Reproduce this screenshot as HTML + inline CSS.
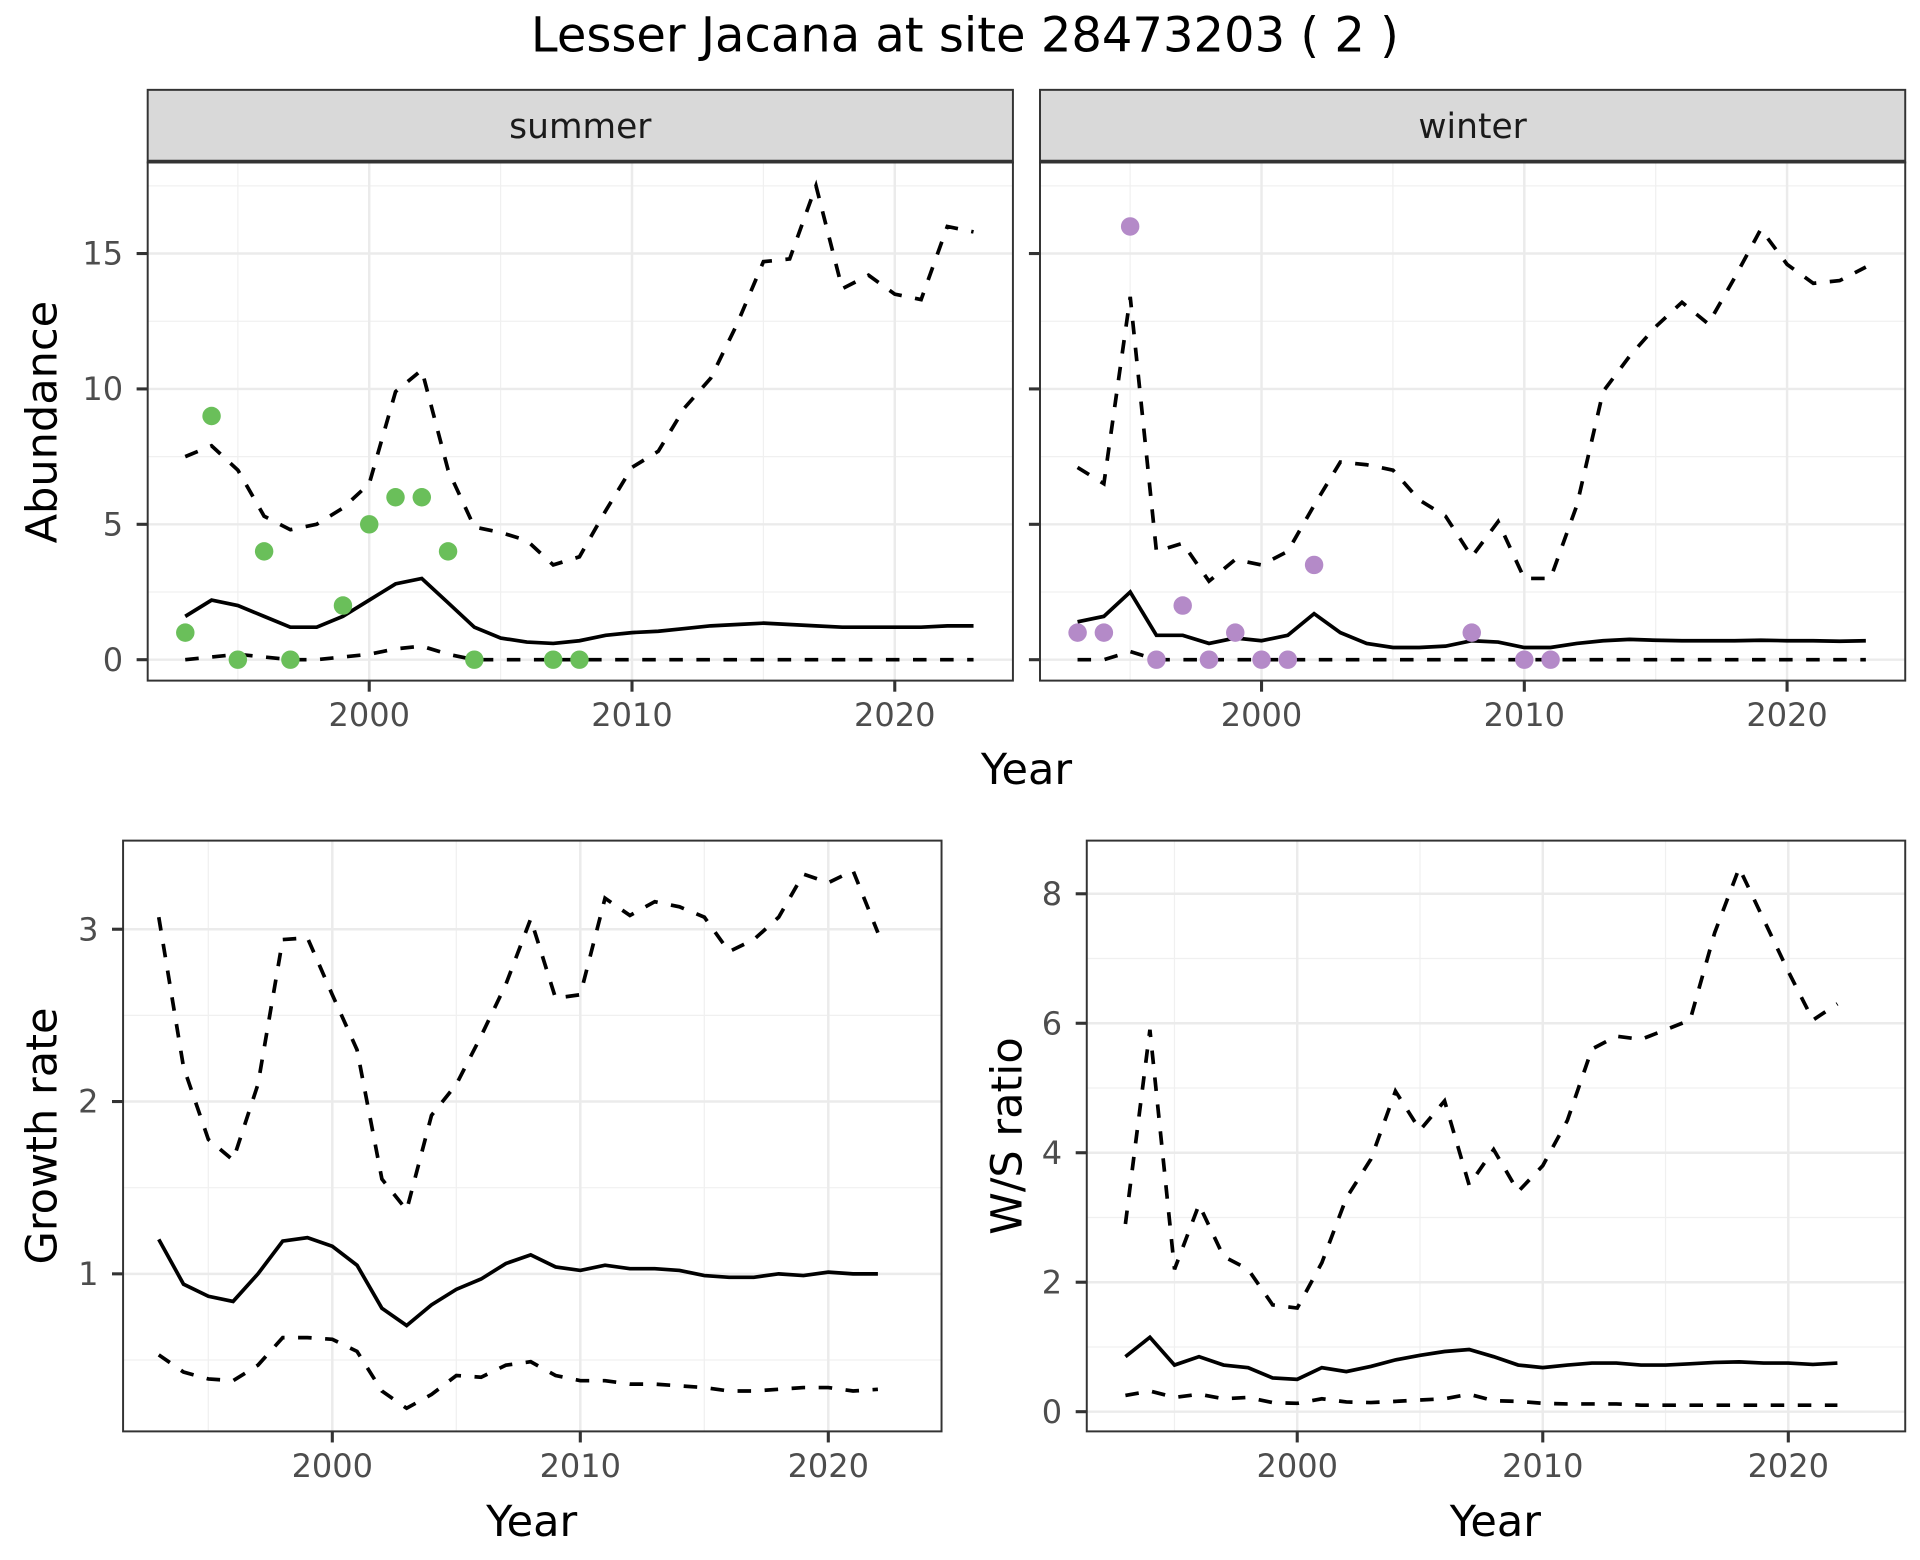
<!DOCTYPE html>
<html><head><meta charset="utf-8"><style>
html,body{margin:0;padding:0;background:#fff}
svg{display:block}
text{font-family:"DejaVu Sans","Liberation Sans",sans-serif}
</style></head><body>
<svg id="s" xmlns="http://www.w3.org/2000/svg" width="1920" height="1560" viewBox="0 0 1560 1267.5"></svg>
<script>
(function(){
const S=document.getElementById('s');let h='';
h+='<rect width="1560" height="1268" fill="#fff"/>';
h+='<text x="784" y="42" font-size="39" text-anchor="middle" fill="#000">Lesser Jacana at site 28473203 ( 2 )</text>';
function panel(o){
 const x0=o.x0,x1=o.x1,y0=o.y0,y1=o.y1,xs=o.xs,ys=o.ys;
 let g='';
 g+=`<rect x="${x0}" y="${y0}" width="${x1-x0}" height="${y1-y0}" fill="#fff"/>`;
 o.xminor.forEach(v=>g+=`<line x1="${xs(v)}" x2="${xs(v)}" y1="${y0}" y2="${y1}" stroke="#f0f0f0" stroke-width="1"/>`);
 o.yminor.forEach(v=>g+=`<line y1="${ys(v)}" y2="${ys(v)}" x1="${x0}" x2="${x1}" stroke="#f0f0f0" stroke-width="1"/>`);
 o.xticks.forEach(v=>g+=`<line x1="${xs(v)}" x2="${xs(v)}" y1="${y0}" y2="${y1}" stroke="#ebebeb" stroke-width="2"/>`);
 o.yticks.forEach(v=>g+=`<line y1="${ys(v)}" y2="${ys(v)}" x1="${x0}" x2="${x1}" stroke="#ebebeb" stroke-width="2"/>`);
 o.xticks.forEach(v=>{g+=`<line x1="${xs(v)}" x2="${xs(v)}" y1="${y1}" y2="${y1+9}" stroke="#333" stroke-width="2.5"/>`;
  g+=`<text x="${xs(v)}" y="${y1+37}" font-size="26" fill="#4d4d4d" text-anchor="middle">${v}</text>`;});
 o.yticks.forEach(v=>{g+=`<line x1="${x0-9}" x2="${x0}" y1="${ys(v)}" y2="${ys(v)}" stroke="#333" stroke-width="2.5"/>`;
  if(o.showY)g+=`<text x="${x0-20}" y="${ys(v)+9}" font-size="26" fill="#4d4d4d" text-anchor="end">${v}</text>`;});
 const line=(a,st,dash)=>{let p=a.map((v,i)=>xs(st+i).toFixed(1)+','+ys(v).toFixed(1)).join(' ');
  return `<polyline points="${p}" fill="none" stroke="#000" stroke-width="3" ${dash?'stroke-dasharray="11,11"':''}/>`;};
 g+=line(o.up,o.st,1)+line(o.lo,o.st,1)+line(o.mid,o.st,0);
 (o.pts||[]).forEach(p=>g+=`<circle cx="${xs(p[0])}" cy="${ys(p[1])}" r="7.5" fill="${o.col}"/>`);
 g+=`<rect x="${x0}" y="${y0}" width="${x1-x0}" height="${y1-y0}" fill="none" stroke="#333" stroke-width="1.6"/>`;
 return g;
}
const z=n=>Array(n).fill(0);
const ysT=v=>536-22*v;
const topP=(x0,x1,x2000,sx)=>({x0:x0,x1:x1,y0:132,y1:553,xs:v=>x2000+(v-2000)*sx,ys:ysT,xticks:[2000,2010,2020],xminor:[1995,2005,2015],yticks:[0,5,10,15],yminor:[2.5,7.5,12.5,17.5],st:1993});
let A=topP(120,823,300,21.35);
Object.assign(A,{showY:1,col:'#6abf5a',
mid:[1.6,2.2,2.0,1.6,1.2,1.2,1.6,2.2,2.8,3.0,2.1,1.2,0.8,0.65,0.6,0.7,0.9,1.0,1.05,1.15,1.25,1.3,1.35,1.3,1.25,1.2,1.2,1.2,1.2,1.25,1.25],
up:[7.5,7.9,7.0,5.3,4.8,5.0,5.6,6.5,9.9,10.7,7.0,4.9,4.7,4.4,3.5,3.8,5.5,7.1,7.7,9.3,10.4,12.4,14.7,14.8,17.5,13.7,14.2,13.5,13.3,16.0,15.8],
lo:[0,0.1,0.2,0.1,0,0,0.1,0.2,0.4,0.5,0.2].concat(z(20)),
pts:[[1993,1],[1994,9],[1995,0],[1996,4],[1997,0],[1999,2],[2000,5],[2001,6],[2002,6],[2003,4],[2004,0],[2007,0],[2008,0]]});
h+=panel(A);
let B=topP(845,1548,1025,21.35);
Object.assign(B,{showY:0,col:'#b48ac8',
mid:[1.4,1.6,2.5,0.9,0.9,0.6,0.8,0.7,0.9,1.7,1.0,0.6,0.45,0.45,0.5,0.7,0.65,0.45,0.45,0.6,0.7,0.75,0.72,0.7,0.7,0.7,0.72,0.7,0.7,0.68,0.7],
up:[7.1,6.5,13.4,4.0,4.3,2.9,3.7,3.5,4.0,5.7,7.3,7.2,7.0,5.9,5.3,3.8,5.1,3.0,3.0,5.7,9.9,11.2,12.3,13.2,12.4,14.1,15.9,14.6,13.9,14.0,14.5],
lo:[0,0,0.3].concat(z(28)),
pts:[[1993,1],[1994,1],[1995,16],[1996,0],[1997,2],[1998,0],[1999,1],[2000,0],[2001,0],[2002,3.5],[2008,1],[2010,0],[2011,0]]});
h+=panel(B);
[[120,823,'summer'],[845,1548,'winter']].forEach(function(a){
 h+=`<rect x="${a[0]}" y="73" width="${a[1]-a[0]}" height="59" fill="#d9d9d9" stroke="#333" stroke-width="1.6"/>`;
 h+=`<line x1="${a[0]}" x2="${a[1]}" y1="131" y2="131" stroke="#333" stroke-width="2.5"/>`;
 h+=`<text x="${(a[0]+a[1])/2}" y="112" font-size="28" fill="#1a1a1a" text-anchor="middle">${a[2]}</text>`;});
h+='<text x="834" y="637" font-size="35" text-anchor="middle">Year</text>';
h+='<text transform="translate(46,343) rotate(-90)" font-size="35" text-anchor="middle">Abundance</text>';
h+=panel({x0:100,x1:765,y0:683,y1:1163,xs:v=>270+(v-2000)*20.15,ys:v=>1175-140*v,showY:1,
xticks:[2000,2010,2020],xminor:[1995,2005,2015],yticks:[1,2,3],yminor:[0.5,1.5,2.5],st:1993,
mid:[1.2,0.94,0.87,0.84,1.0,1.19,1.21,1.16,1.05,0.8,0.7,0.82,0.91,0.97,1.06,1.11,1.04,1.02,1.05,1.03,1.03,1.02,0.99,0.98,0.98,1.0,0.99,1.01,1.0,1.0],
up:[3.07,2.2,1.78,1.66,2.1,2.94,2.95,2.62,2.3,1.55,1.37,1.92,2.1,2.38,2.68,3.06,2.6,2.62,3.18,3.08,3.16,3.13,3.07,2.87,2.94,3.07,3.32,3.27,3.34,2.98],
lo:[0.53,0.43,0.39,0.38,0.47,0.63,0.63,0.62,0.55,0.32,0.22,0.3,0.41,0.4,0.47,0.49,0.41,0.38,0.38,0.36,0.36,0.35,0.34,0.32,0.32,0.33,0.34,0.34,0.32,0.33]});
h+=panel({x0:883,x1:1548,y0:683,y1:1163,xs:v=>1054+(v-2000)*19.95,ys:v=>1147-52.6*v,showY:1,
xticks:[2000,2010,2020],xminor:[1995,2005,2015],yticks:[0,2,4,6,8],yminor:[1,3,5,7],st:1993,
mid:[0.85,1.15,0.72,0.85,0.72,0.68,0.52,0.5,0.68,0.62,0.7,0.8,0.87,0.93,0.96,0.85,0.72,0.68,0.72,0.75,0.75,0.72,0.72,0.74,0.76,0.77,0.75,0.75,0.73,0.75],
up:[2.9,5.9,2.2,3.2,2.4,2.2,1.65,1.6,2.3,3.3,3.9,4.95,4.35,4.8,3.5,4.05,3.4,3.8,4.5,5.6,5.8,5.75,5.9,6.05,7.4,8.4,7.6,6.8,6.05,6.3],
lo:[0.25,0.32,0.22,0.27,0.2,0.22,0.14,0.13,0.2,0.15,0.14,0.16,0.18,0.2,0.27,0.17,0.16,0.13,0.12,0.12,0.12,0.1,0.1,0.1,0.1,0.1,0.1,0.1,0.1,0.1]});
h+='<text x="432" y="1248" font-size="35" text-anchor="middle">Year</text>';
h+='<text x="1215" y="1248" font-size="35" text-anchor="middle">Year</text>';
h+='<text transform="translate(46,923) rotate(-90)" font-size="35" text-anchor="middle">Growth rate</text>';
h+='<text transform="translate(830,923) rotate(-90)" font-size="35" text-anchor="middle">W/S ratio</text>';
S.innerHTML=h;
})();
</script>
</body></html>
